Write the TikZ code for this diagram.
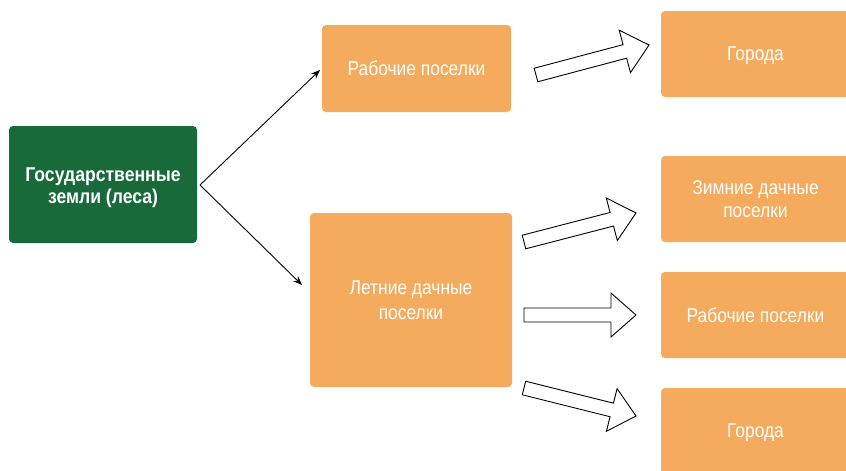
\documentclass[tikz,border=0pt]{standalone}
\usepackage{fontspec}
\setmainfont{Liberation Sans}
\newfontfamily\labfont[FakeStretch=0.87]{Liberation Sans}
\newfontfamily\boldlabfont[FakeStretch=0.88]{Liberation Sans Bold}
\usetikzlibrary{calc,arrows.meta}
\definecolor{greenfill}{RGB}{24,106,59}
\definecolor{orangefill}{RGB}{245,171,94}
\tikzset{
  box/.style={rectangle, rounded corners=4pt, fill=orangefill, text=white, align=center,
    font=\labfont\fontsize{20}{24}\selectfont, inner sep=0pt},
  oneline/.style={text depth=0pt},
  greenbox/.style={box, fill=greenfill, font=\boldlabfont\fontsize{20}{21.5}\selectfont},
  thinarrow/.style={-{Stealth[length=9pt,width=7pt]}, line width=0.9pt},
  fatarrow/.style={draw=black, fill=white, line width=0.9pt, line join=miter},
}
\newcommand\blockarrow[2]{%
  \path ($(#2)!25pt!(#1)$) coordinate (bh);
  \draw[fatarrow] ($(#1)!7pt!90:(#2)$) -- ($(bh)!7pt!90:(#2)$) -- ($(bh)!22pt!90:(#2)$)
    -- (#2) -- ($(bh)!22pt!-90:(#2)$) -- ($(bh)!7pt!-90:(#2)$) -- ($(#1)!7pt!-90:(#2)$) -- cycle;
}
\begin{document}
\begin{tikzpicture}[x=1pt,y=-1pt]
  \useasboundingbox (0,0) rectangle (846,471);
  \clip (0,0) rectangle (846,471);
  \node[greenbox, minimum width=188pt, minimum height=117pt] (g) at (103,184.5) {\rule{0pt}{20pt}Государственные\\земли (леса)};
  \node[box, oneline, minimum width=189pt, minimum height=87pt] (top) at (416.5,68.5) {Рабочие поселки};
  \node[box, font=\labfont\fontsize{20}{25}\selectfont, minimum width=202pt, minimum height=174pt] (mid) at (411,300) {Летние дачные\\поселки};
  \node[box, oneline, minimum width=189pt, minimum height=86pt] (r1) at (755.5,54) {Города};
  \node[box, font=\labfont\fontsize{20}{23}\selectfont, minimum width=189pt, minimum height=86pt] (r2) at (755.5,199) {Зимние дачные\\поселки};
  \node[box, oneline, minimum width=189pt, minimum height=86pt] (r3) at (755.5,315) {Рабочие поселки};
  \node[box, oneline, minimum width=189pt, minimum height=86pt] (r4) at (755.5,431) {Города};

  \coordinate (gs) at (200,185);
  \coordinate (te) at (320,70);
  \coordinate (me) at (302,285);
  \draw[thinarrow] (gs) -- (te);
  \draw[thinarrow] (gs) -- (me);

  \coordinate (a1) at (536,75);  \coordinate (b1) at (649,45);
  \coordinate (a2) at (524,242); \coordinate (b2) at (636,213);
  \coordinate (a3) at (524,315); \coordinate (b3) at (636,315);
  \coordinate (a4) at (524,388); \coordinate (b4) at (636,416);
  \blockarrow{a1}{b1}
  \blockarrow{a2}{b2}
  \blockarrow{a3}{b3}
  \blockarrow{a4}{b4}
\end{tikzpicture}
\end{document}
